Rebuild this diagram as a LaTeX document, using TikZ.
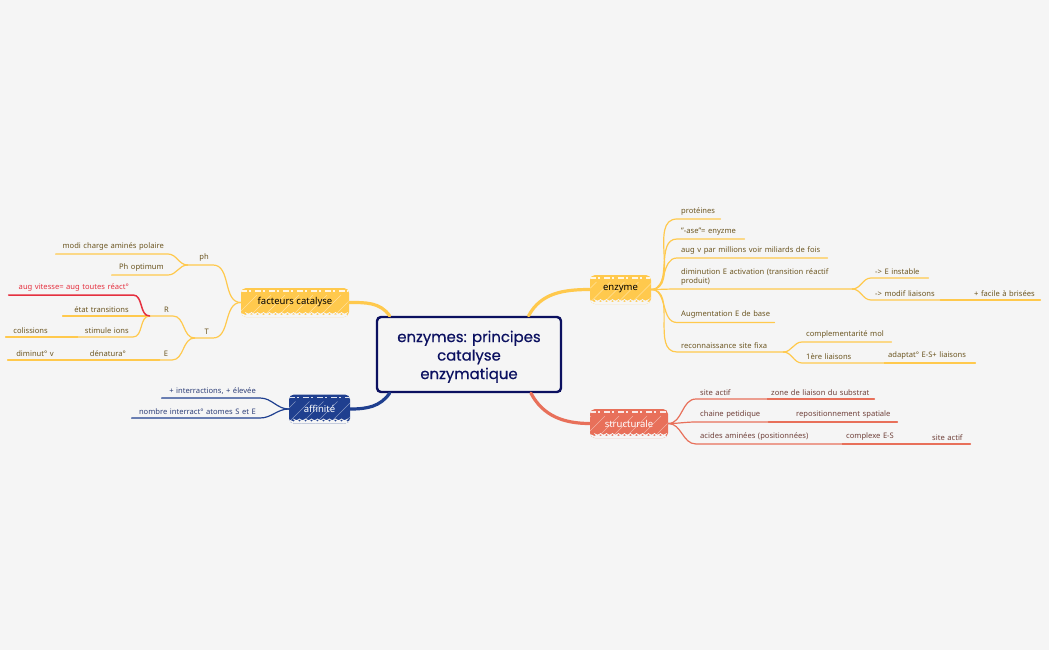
\documentclass[tikz,border=0pt]{standalone}
\usepackage{fontspec}
\setmainfont{Noto Sans}
\newfontfamily\headfont[FakeBold=0.4]{Poppins}
\usetikzlibrary{decorations.pathmorphing}
\definecolor{paper}{HTML}{F5F5F5}
\definecolor{sun}{HTML}{FFC94D}
\definecolor{sunink}{HTML}{6B5520}
\definecolor{navy}{HTML}{0B1060}
\definecolor{royal}{HTML}{1F3F8F}
\definecolor{royalink}{HTML}{2E3F78}
\definecolor{coral}{HTML}{E8705A}
\definecolor{coralink}{HTML}{6E3F38}
\definecolor{alert}{HTML}{E5303F}
\tikzset{
  % underlined label: #1 = length of the underline
  toptext/.style={inner xsep=4pt,inner ysep=3.5pt,font=\fontsize{7.6}{9}\selectfont,text width=#1-8pt},
  topicr/.style={toptext=#1,anchor=south west,align=left},
  topicl/.style={toptext=#1,anchor=south east,align=right},
  hub/.style={rounded corners=5pt,minimum height=29pt,inner sep=0pt,font=\fontsize{9.5}{11}\selectfont,
    path picture={
      \foreach \k in {-60,-46,...,60}
        \draw[white,line width=.4pt,opacity=.45] ([xshift=\k pt]path picture bounding box.south) -- ++(22pt,22pt);
      \draw[white,line width=1.4pt,dash pattern=on 6pt off 2pt on 2pt off 4pt,opacity=.85]
        ([yshift=-3pt]path picture bounding box.north west) -- ([yshift=-3pt]path picture bounding box.north east);
      \draw[paper,line width=1.6pt,decorate,decoration={zigzag,segment length=6pt,amplitude=1.6pt}]
        ([yshift=.6pt]path picture bounding box.south west) -- ([yshift=.6pt]path picture bounding box.south east);
    }},
  branch/.style={line width=1.2pt,line cap=round},
  trunk/.style={line width=3.2pt,line cap=round}
}
\begin{document}
\begin{tikzpicture}[x=1pt,y=-1pt]
  \fill[paper] (0,0) rectangle (1049,650);
  \useasboundingbox (0,0) rectangle (1049,650);

  % centre and main topics
  \node [draw=navy,line width=2.4pt,rounded corners=4pt,minimum width=184pt,minimum height=75pt,align=center,
    text=navy,font=\headfont\fontsize{14.9}{18.5}\selectfont] (centre) at (469,354.5) {\rule{0pt}{16pt}enzymes: principes\\catalyse\\enzymatique};
  \node [hub,fill=sun,minimum width=61pt,text=black] (enzyme) at (620.5,289.5) {enzyme};
  \node [hub,fill=sun,minimum width=108pt,text=black] (facteurs) at (295,302.5) {facteurs catalyse};
  \node [hub,fill=royal,minimum width=61pt,text=white] (affinite) at (319.5,409) {affinité};
  \node [hub,fill=coral,minimum width=78pt,text=white] (structurale) at (629,423.5) {structurale};

  \draw [trunk,sun] (centre.33) to[out=62,in=180] (enzyme.west);
  \draw [trunk,sun] (centre.154) to[out=125,in=0] (facteurs.east);
  \draw [trunk,royal] (centre.206) to[out=235,in=0] (affinite.east);
  \draw [trunk,coral] (centre.328) to[out=-62,in=180] (structurale.west);

  % enzyme
  \begin{scope}[text=sunink]
    \node [topicr=43pt] (proteines) at (677,219) {protéines};
    \node [topicr=67pt] (ase) at (677,239) {"-ase"= enyzme};
    \node [topicr=150pt] (millions) at (677,258) {aug v par millions voir miliards de fois};
    \node [topicr=175pt] (activation) at (677,289) {diminution E activation (transition réactif\\produit)};
    \node [topicr=97pt] (base) at (677,322.5) {Augmentation E de base};
    \node [topicr=106pt] (fixa) at (677,352) {reconnaissance site fixa};
    \node [topicr=57pt] (instable) at (871,278) {-> E instable};
    \node [topicr=69pt] (modif) at (871,300) {-> modif liaisons};
    \node [topicr=70pt] (facile) at (970,300) {+ facile à brisées};
    \node [topicr=89pt] (compl) at (802,342) {complementarité mol};
    \node [topicr=82pt] (liaisons) at (802,363) {1ère liaisons};
    \node [topicr=91pt] (adaptat) at (884,363) {adaptat° E-S+ liaisons};
  \end{scope}
  \foreach \to in {proteines,ase,millions,activation,base,fixa}
    \draw [branch,sun] (enzyme.east) to[out=0,in=180] (\to.south west) -- (\to.south east);
  \foreach \from/\to in {activation/instable,activation/modif,fixa/compl,fixa/liaisons}
    \draw [branch,sun] (\from.south east) to[out=0,in=180] (\to.south west) -- (\to.south east);
  \draw [branch,sun] (modif.south east) -- (facile.south west) -- (facile.south east);
  \draw [branch,sun] (liaisons.south east) -- (adaptat.south west) -- (adaptat.south east);

  % facteurs catalyse
  \begin{scope}[text=sunink]
    \node [topicl=25pt] (ph) at (213,265) {ph};
    \node [topicl=112pt] (polaire) at (168,254) {modi charge aminés polaire};
    \node [topicl=56pt] (optimum) at (168,275) {Ph optimum};
    \node [topicl=18pt] (T) at (213,338) {T};
    \node [topicl=23pt] (R) at (173,316) {R};
    \node [topicl=12pt] (E) at (172,360) {E};
    \node [topicl=70pt] (transitions) at (133,316) {état transitions};
    \node [topicl=55pt] (ions) at (133,337) {stimule ions};
    \node [topicl=46pt] (colissions) at (52,337) {colissions};
    \node [topicl=44pt] (denat) at (130,360) {dénatura°};
    \node [topicl=50pt] (diminut) at (58,360) {diminut° v};
  \end{scope}
  \node [topicl=124pt,text=alert] (vitesse) at (133,295) {aug vitesse= aug toutes réact°};
  \foreach \to in {ph,T}
    \draw [branch,sun] (facteurs.west) to[out=180,in=0] (\to.south east) -- (\to.south west);
  \foreach \from/\to in {ph/polaire,ph/optimum,T/R,T/E,R/transitions,R/ions}
    \draw [branch,sun] (\from.south west) to[out=180,in=0] (\to.south east) -- (\to.south west);
  \draw [branch,sun] (ions.south west) -- (colissions.south east) -- (colissions.south west);
  \draw [branch,sun] (E.south west) -- (denat.south east) -- (denat.south west) -- (diminut.south east) -- (diminut.south west);
  \draw [branch,alert,line width=1.5pt] (R.south west) to[out=180,in=0] (vitesse.south east) -- (vitesse.south west);

  % affinite
  \node [topicl=98pt,text=royalink] (interr) at (260,398) {+ interractions, + élevée};
  \node [topicl=128pt,text=royalink] (atomes) at (260,418) {nombre interract° atomes S et E};
  \foreach \to in {interr,atomes}
    \draw [branch,royal] (affinite.west) to[out=180,in=0] (\to.south east) -- (\to.south west);

  % structurale
  \begin{scope}[text=coralink]
    \node [topicr=71pt] (site) at (696,399) {site actif};
    \node [topicr=107pt] (zone) at (767,399) {zone de liaison du substrat};
    \node [topicr=72pt] (chaine) at (696,422) {chaine petidique};
    \node [topicr=105pt] (spatiale) at (792,422) {repositionnement spatiale};
    \node [topicr=146pt] (acides) at (696,444) {acides aminées (positionnées)};
    \node [topicr=57pt] (complexe) at (842,444) {complexe E-S};
    \node [topicr=42pt] (site2) at (928,444) {site actif};
  \end{scope}
  \foreach \to in {site,chaine,acides}
    \draw [branch,coral] (structurale.east) to[out=0,in=180] (\to.south west) -- (\to.south east);
  \draw [branch,coral] (site.south east) -- (zone.south west) -- (zone.south east);
  \draw [branch,coral] (chaine.south east) -- (spatiale.south west) -- (spatiale.south east);
  \draw [branch,coral] (acides.south east) -- (complexe.south west) -- (complexe.south east) -- (site2.south west) -- (site2.south east);
\end{tikzpicture}
\end{document}
